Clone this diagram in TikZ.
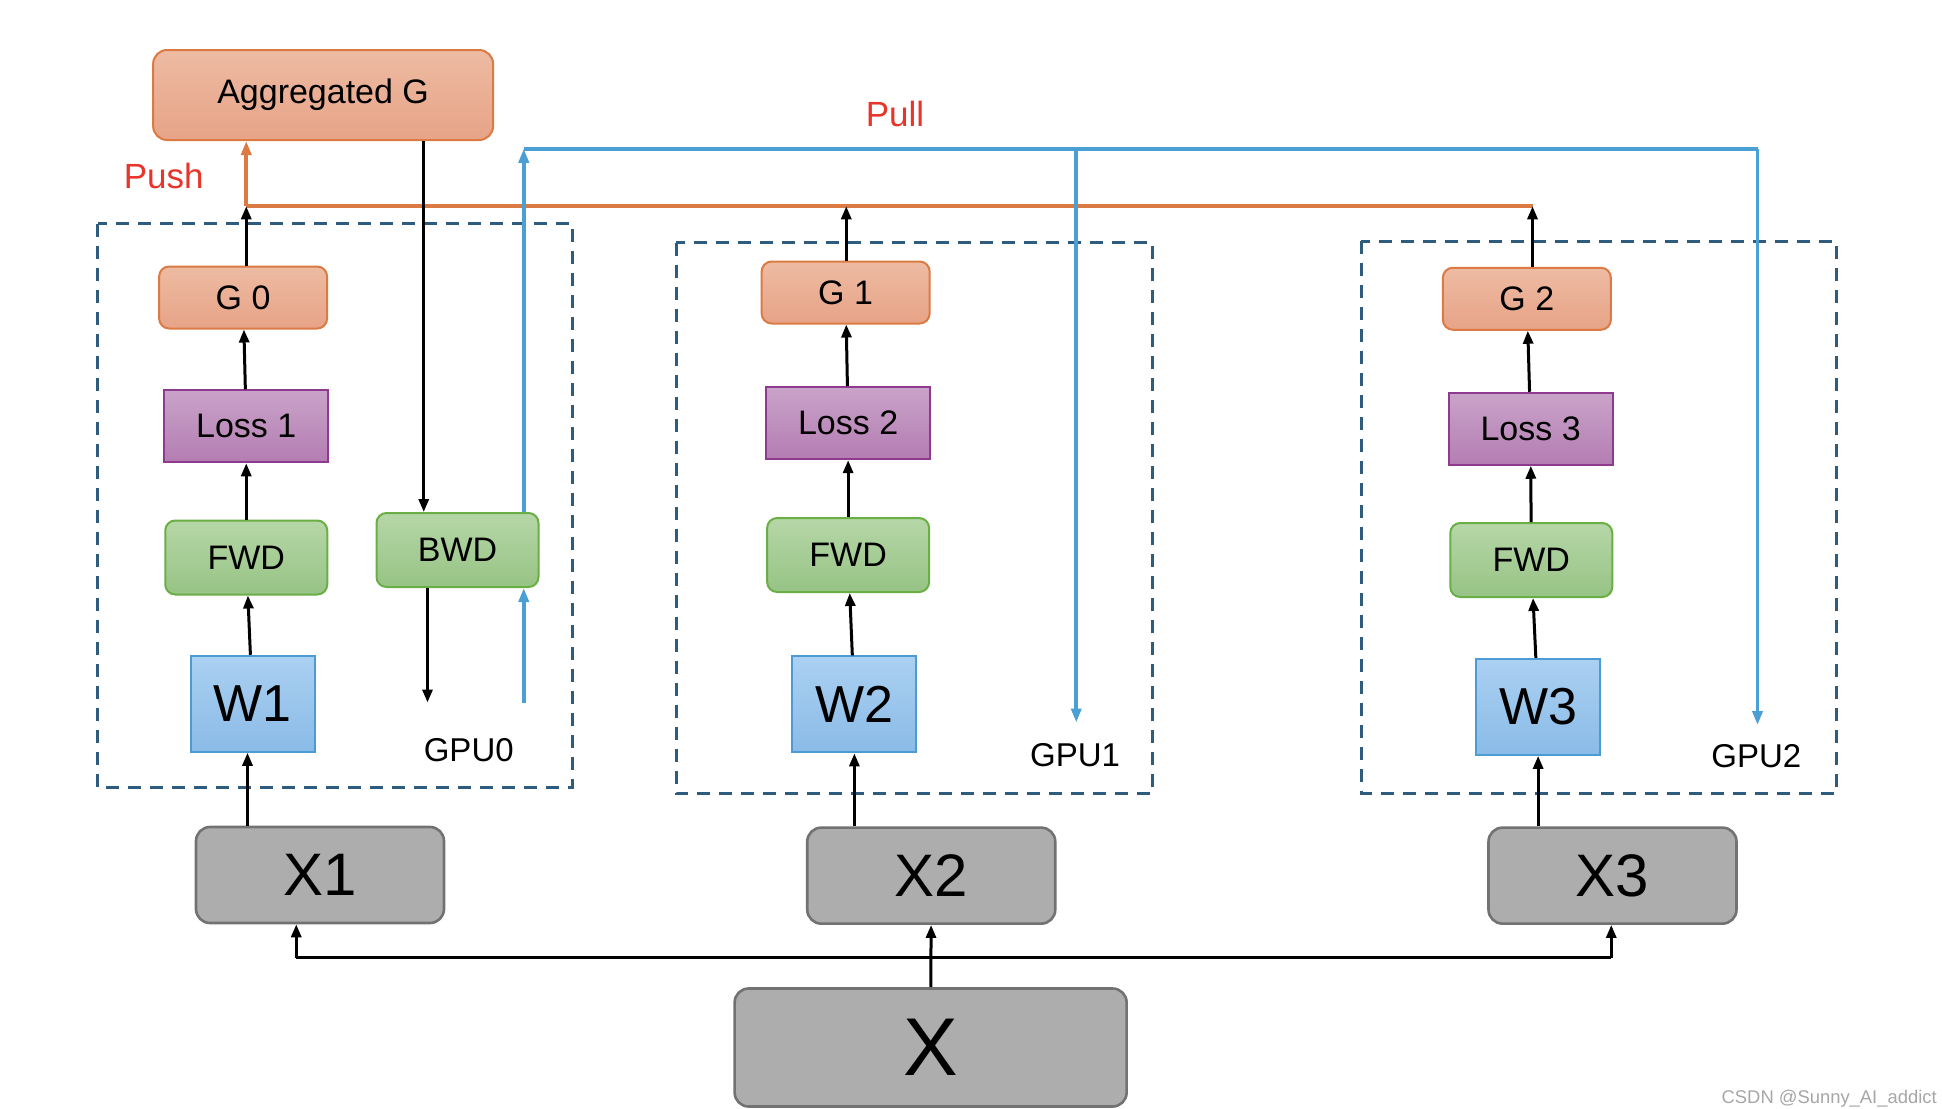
\documentclass[tikz,border=0pt]{standalone}
\usepackage{fontspec}
\setmainfont{Liberation Sans}
\usetikzlibrary{arrows.meta}

\definecolor{gradline}{HTML}{DC7A43}
\definecolor{gradtop}{HTML}{EDBBA3}
\definecolor{gradbot}{HTML}{E7A387}
\definecolor{losstop}{HTML}{C9A3C9}
\definecolor{lossbot}{HTML}{B47DB2}
\definecolor{lossline}{HTML}{8E3A8E}
\definecolor{fwdtop}{HTML}{B6D7A7}
\definecolor{fwdbot}{HTML}{97C385}
\definecolor{fwdline}{HTML}{6AAE46}
\definecolor{wtop}{HTML}{ABD0F2}
\definecolor{wbot}{HTML}{8ABBE7}
\definecolor{wline}{HTML}{4C9BD5}
\definecolor{xfill}{HTML}{ADADAD}
\definecolor{xline}{HTML}{727272}
\definecolor{pullblue}{HTML}{4A9FD5}
\definecolor{gpudash}{HTML}{2E5C7E}
\definecolor{labred}{HTML}{E8352B}

\tikzset{
  gradbox/.style={draw=gradline, line width=1pt, rounded corners=5pt,
    top color=gradtop, bottom color=gradbot, font=\fontsize{17}{20}\selectfont,
    minimum width=84pt, minimum height=31pt},
  lossbox/.style={draw=lossline, line width=1pt, top color=losstop, bottom color=lossbot,
    font=\fontsize{17}{20}\selectfont, minimum width=82pt, minimum height=36pt},
  fwdbox/.style={draw=fwdline, line width=1pt, rounded corners=5pt,
    top color=fwdtop, bottom color=fwdbot, font=\fontsize{17}{20}\selectfont,
    minimum width=81pt, minimum height=37pt},
  wbox/.style={draw=wline, line width=1pt, top color=wtop, bottom color=wbot,
    font=\fontsize{26}{30}\selectfont, minimum width=62pt, minimum height=48pt},
  xbox/.style={draw=xline, line width=1.3pt, rounded corners=7pt, fill=xfill,
    font=\fontsize{30}{34}\selectfont, minimum width=124pt, minimum height=48pt},
  gpubox/.style={draw=gpudash, line width=1.4pt, dash pattern=on 6.5pt off 4.5pt},
  arr/.style={line width=1.5pt, -{Triangle[length=6.5pt,width=5pt]}},
  pushline/.style={draw=gradline, line width=1.8pt},
  pullline/.style={draw=pullblue, line width=1.8pt},
  pullarr/.style={pullline, -{Triangle[length=7pt,width=5pt]}},
  gpulabel/.style={font=\fontsize{16.5}{20}\selectfont},
  toplabel/.style={text=labred, font=\fontsize{17.5}{20}\selectfont}
}

\begin{document}
\begin{tikzpicture}[x=0.625pt, y=-0.625pt]
  \useasboundingbox (0,0) rectangle (1553.6,886.4);

  % GPU frames
  \draw[gpubox] (78,179) rectangle (458,630);
  \draw[gpubox] (541,194) rectangle (922,635);
  \draw[gpubox] (1089,193) rectangle (1469,635);

  % Aggregated gradient
  \node[gradbox, rounded corners=7pt, minimum width=170pt, minimum height=45pt] (Agg) at (258.5,76) {Aggregated G};

  % GPU0
  \node[gradbox] (G0) at (194.5,238) {G 0};
  \node[lossbox] (Loss1) at (197,341) {Loss 1};
  \node[fwdbox] (FWD1) at (197,446) {FWD};
  \node[wbox] (W1) at (202,563) {W1};
  \node[fwdbox] (BWD) at (366,440) {BWD};
  \node[gpulabel] (GPU0) at (375,600) {GPU0};

  % GPU1
  \node[gradbox] (G1) at (676.5,234) {G 1};
  \node[lossbox] (Loss2) at (678.5,338.5) {Loss 2};
  \node[fwdbox] (FWD2) at (678.5,444) {FWD};
  \node[wbox] (W2) at (683.5,563.5) {W2};
  \node[gpulabel] (GPU1) at (860,604) {GPU1};

  % GPU2
  \node[gradbox] (G2) at (1221.5,239) {G 2};
  \node[lossbox] (Loss3) at (1224.5,343) {Loss 3};
  \node[fwdbox] (FWD3) at (1225,448) {FWD};
  \node[wbox] (W3) at (1230.5,565.5) {W3};
  \node[gpulabel] (GPU2) at (1405,605) {GPU2};

  % Data
  \node[xbox] (X1) at (256,700) {X1};
  \node[xbox] (X2) at (745,700.5) {X2};
  \node[xbox] (X3) at (1290,700.5) {X3};
  \node[xbox, font=\fontsize{41}{46}\selectfont, minimum width=196pt, minimum height=59pt] (X) at (744.5,838) {X};

  % Labels
  \node[toplabel] (Push) at (131,141) {Push};
  \node[toplabel] (Pull) at (716,91) {Pull};
  \node[text=gray!70, font=\fontsize{9.2}{11}\selectfont, anchor=east] (Mark) at (1555,879) {CSDN @Sunny\_AI\_addict};

  % Forward chains
  \draw[arr] (X1.north -| W1) ++(-4,0) -- ([xshift=-2.5pt]W1.south);
  \draw[arr] (W1) -- (FWD1);
  \draw[arr] (FWD1) -- (Loss1);
  \draw[arr] (Loss1) -- (G0);
  \draw[arr] (X2.north -| W2) -- (W2.south);
  \draw[arr] (W2) -- (FWD2);
  \draw[arr] (FWD2) -- (Loss2);
  \draw[arr] (Loss2) -- (G1);
  \draw[arr] (X3.north -| W3) -- (W3.south);
  \draw[arr] (W3) -- (FWD3);
  \draw[arr] (FWD3) -- (Loss3);
  \draw[arr] (Loss3) -- (G2);

  % Push gradients
  \coordinate (push0) at (197,165);
  \coordinate (push1) at (677,165);
  \coordinate (push2) at (1226,165);
  \draw[pushline] (push2) -- (push0);
  \draw[pushline, -{Triangle[length=7pt,width=5pt]}] (push0) -- (push0 |- Agg.south);
  \draw[arr] (G0.north -| push0) -- (push0);
  \draw[arr] (G1.north -| push1) -- (push1);
  \draw[arr] (G2.north -| push2) -- (push2);

  % Backward on GPU0
  \coordinate (bwdx) at (339,440);
  \coordinate (gradout) at (342,562);
  \coordinate (wupd) at (419,562);
  \draw[arr] (Agg.south -| bwdx) -- (BWD.north -| bwdx);
  \draw[arr] (BWD.south -| gradout) -- (gradout);
  \draw[pullarr] (wupd) -- (wupd |- BWD.south);

  % Pull weights
  \coordinate (pullc) at (419,119);
  \coordinate (pullM) at (861,119);
  \coordinate (pullR) at (1406,119);
  \draw[pullarr] (BWD.north -| pullc) -- (pullc);
  \draw[pullline] (pullc) -- (pullR);
  \draw[pullarr] (pullM) -- (861,578);
  \draw[pullarr] (pullR) -- (1406,580);

  % Split X
  \coordinate (busL) at (237,766);
  \coordinate (busR) at (1289,766);
  \draw[line width=1.5pt] (busL) -- (busR);
  \draw[arr] (busL) -- (busL |- X1.south);
  \draw[arr] (busR) -- (busR |- X3.south);
  \draw[arr] (X) -- (X2);
\end{tikzpicture}
\end{document}
